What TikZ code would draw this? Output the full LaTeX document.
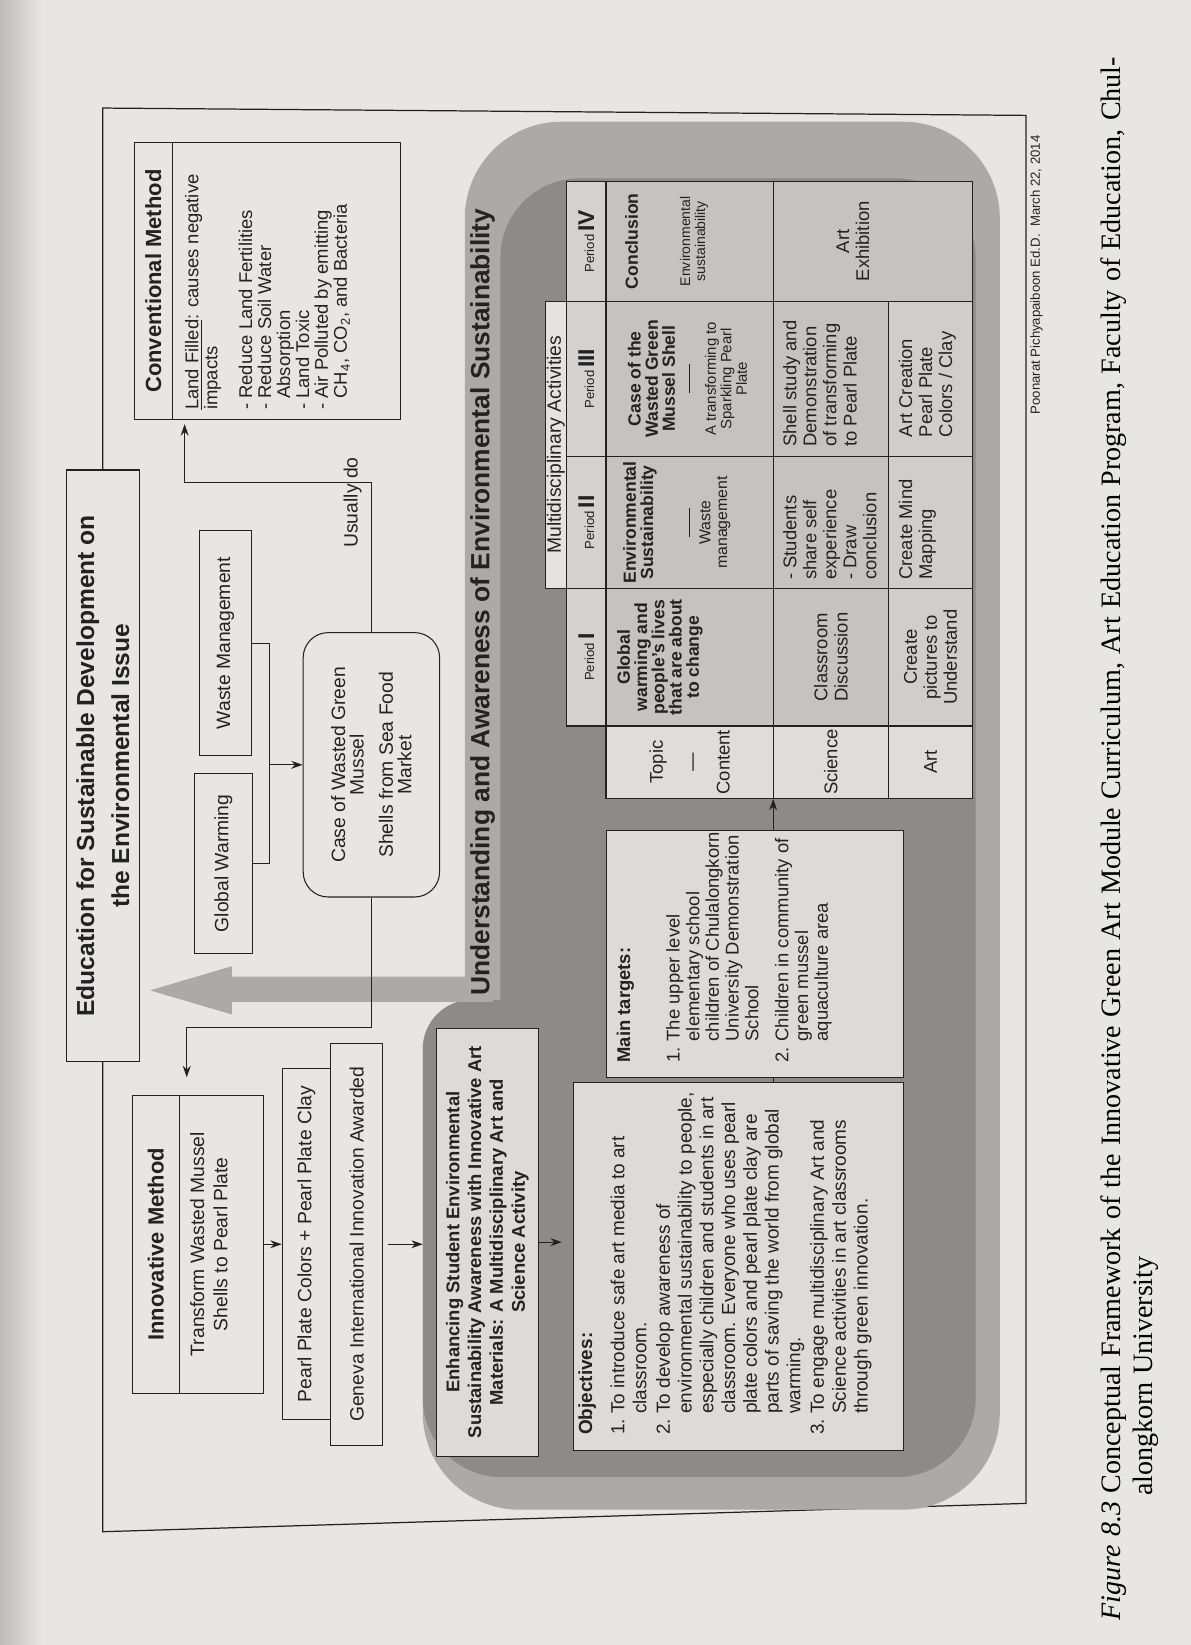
\documentclass[tikz,border=0pt]{standalone}
\usepackage{fontspec}
\setmainfont{Liberation Sans}
\newfontfamily\capfont{Liberation Serif}
\usetikzlibrary{calc,arrows.meta}

\definecolor{pagebg}{HTML}{E7E6E3}
\definecolor{edgebg}{HTML}{BDBCBA}
\definecolor{blklight}{HTML}{ABAAA6}
\definecolor{blkdark}{HTML}{8C8B87}
\definecolor{boxfill}{HTML}{DCDBD8}
\definecolor{perfill}{HTML}{D3D2CE}
\definecolor{cellfill}{HTML}{C4C3BF}
\definecolor{artfill}{HTML}{CFCECA}
\definecolor{labfill}{HTML}{DEDDDA}
\definecolor{hdrfill}{HTML}{E4E3E0}
\definecolor{inkc}{HTML}{222222}

\newcommand{\fsz}[2]{\fontsize{#1}{#2}\selectfont}
\newcommand{\periodlbl}[1]{{\fsz{7.5}{8}Period}\,{\fsz{13}{14}\bfseries #1}}

\tikzset{
  bx/.style 2 args={rotate=90, draw=inkc, line width=.6pt, inner sep=0pt,
    minimum width=#1*0.021cm, minimum height=#2*0.021cm, align=center, text=inkc},
  tx/.style={rotate=90, inner sep=0pt, align=center, text=inkc},
  txl/.style={rotate=90, inner sep=0pt, align=left, text=inkc},
  conn/.style={draw=inkc, line width=.6pt},
}

\begin{document}
\begin{tikzpicture}[x=0.021cm, y=-0.021cm, >={Stealth[length=6.5pt,width=4.5pt]}]
\fill[pagebg] (0,0) rectangle (1135,1568);
\shade[left color=edgebg, right color=pagebg] (0,0) rectangle (40,1568);
\useasboundingbox (0,0) rectangle (1135,1568);

% outer frame
\draw[inkc, line width=.7pt] (98,103) -- (978,110) -- (978,1433) -- (98,1460) -- cycle;

% grey block
\fill[blklight] (443,700) [rounded corners=55] -- (443,116) -- (953,116) -- (953,1439)
  -- (403,1439) [rounded corners=28] -- (403,953) [sharp corners] -- (443,953) -- cycle;
\fill[blkdark] (477,700) [rounded corners=45] -- (477,170) -- (930,170) -- (930,1408)
  -- (403,1408) [rounded corners=28] -- (403,953) [sharp corners] -- (477,953) -- cycle;
\fill[blklight] (470,931) -- (221,931) -- (221,921) -- (143,944) -- (221,967) -- (221,955) -- (470,955) -- cycle;

% left part
\node (ttl) [bx={564}{70}, fill=pagebg, font=\fsz{14}{20}\bfseries] at (98,730)
  {Education for Sustainable Development on\\the Environmental Issue};

\node (conv) [bx={264}{254}, fill=pagebg] at (255,268) {};
\draw[conn] (164,136) -- (164,400);
\node (convhd) [tx, font=\fsz{12.5}{14}\bfseries] at (146,268) {Conventional Method};
\node (convtx) [txl, anchor=north west, font=\fsz{10.5}{10.8}] at (176,391)
  {\underline{Land Filled}: causes negative\\impacts\\[9pt]
   - Reduce Land Fertilities\\- Reduce Soil Water\\\phantom{- }Absorption\\
   - Land Toxic\\- Air Polluted by emitting\\\phantom{- }CH\textsubscript{4}, CO\textsubscript{2}, and Bacteria};

\node (wm) [bx={214}{50}, fill=pagebg, font=\fsz{11}{12}] at (215,613) {Waste Management};
\node (gw) [bx={172}{56}, fill=pagebg, font=\fsz{11}{12}] at (213,823) {Global Warming};
\node (case) [bx={252}{130}, rounded corners=0.5cm, fill=pagebg, font=\fsz{11}{10.6}] at (354,729)
  {Case of Wasted Green\\Mussel\\[6pt]Shells from Sea Food\\Market};
\node (usual) [tx, font=\fsz{11}{12}] at (336,479) {Usually do};

\node (innov) [bx={284}{125}, fill=pagebg] at (188.5,1186) {};
\draw[conn] (171,1044) -- (171,1328);
\node (innovhd) [tx, font=\fsz{12.5}{14}\bfseries] at (148.5,1186) {Innovative Method};
\node (innovtx) [tx, font=\fsz{11}{13.3}] at (199,1186) {Transform Wasted Mussel\\Shells to Pearl Plate};
\node (pearl) [bx={334.5}{46}, fill=pagebg, font=\fsz{11}{12}] at (292,1186) {Pearl Plate Colors + Pearl Plate Clay};
\node (gen) [bx={383.5}{50}, fill=pagebg, font=\fsz{11}{12}] at (340,1186) {Geneva International Innovation Awarded};

\coordinate (up) at (176,460);
\coordinate (dn) at (178,979);
\coordinate (brk) at (257,729);
\coordinate (blk) at (403,1186);
\coordinate (ax) at (737,0);

\draw[conn,->, shorten >=0.08cm] (case.east) |- (up) -- (up |- conv.west);
\draw[conn,->, shorten >=0.35cm] (case.west) |- (dn) -- (dn |- innov.east);
\draw[conn] (gw.south) -| (brk) |- (wm.south);
\draw[conn,->] (brk) -- (case.north);
\draw[conn,->] (innov.south) -- (pearl.north);
\draw[conn,->, shorten <=0.1cm] (gen.south) -- (blk);

% grey block contents
\node (bnr) [tx, font=\fsz{15}{16}\bfseries] at (460,574) {Understanding and Awareness of Environmental Sustainability};
\node (enh) [bx={408}{97}, fill=boxfill, font=\fsz{10.5}{12.4}\bfseries] at (464.5,1184)
  {Enhancing Student Environmental\\Sustainability Awareness with Innovative Art\\Materials: A Multidisciplinary Art and\\Science Activity};

\node (obj) [bx={351}{314}, fill=boxfill] at (704,1207.5) {};
\node (objtx) [txl, anchor=north west, font=\fsz{10.8}{12.4}] at (551,1368)
  {\textbf{Objectives:}\\[6pt]
   \makebox[12pt][l]{1.}To introduce safe art media to art\\
   \hspace*{12pt}classroom.\\[1pt]
   \makebox[12pt][l]{2.}To develop awareness of\\
   \hspace*{12pt}environmental sustainability to people,\\
   \hspace*{12pt}especially children and students in art\\
   \hspace*{12pt}classroom. Everyone who uses pearl\\
   \hspace*{12pt}plate colors and pearl plate clay are\\
   \hspace*{12pt}parts of saving the world from global\\
   \hspace*{12pt}warming.\\[1pt]
   \makebox[12pt][l]{3.}To engage multidisciplinary Art and\\
   \hspace*{12pt}Science activities in art classrooms\\
   \hspace*{12pt}through green innovation.};

\node (tgt) [bx={235}{283}, fill=boxfill] at (719.5,909.5) {};
\node (tgttx) [txl, anchor=north west, font=\fsz{10.5}{11.2}] at (587.5,1013)
  {\textbf{Main targets:}\\[17pt]
   \makebox[12pt][l]{1.}The upper level\\
   \hspace*{12pt}elementary school\\
   \hspace*{12pt}children of Chulalongkorn\\
   \hspace*{12pt}University Demonstration\\
   \hspace*{12pt}School\\[6pt]
   \makebox[12pt][l]{2.}Children in community of\\
   \hspace*{12pt}green mussel\\
   \hspace*{12pt}aquaculture area};

\draw[conn,->, shorten >=0.23cm] (enh.south) -- (enh.south -| obj.north);

% activity table
\node (hdr) [bx={274}{20.4}, fill=hdrfill, font=\fsz{11}{11}] at (529.8,424) {Multidisciplinary Activities};
\node (p4) [bx={114}{37.6}, fill=perfill] at (558.8,230) {\periodlbl{IV}};
\node (p3) [bx={148}{37.6}, fill=perfill] at (558.8,361) {\periodlbl{III}};
\node (p2) [bx={126}{37.6}, fill=perfill] at (558.8,498) {\periodlbl{II}};
\node (p1) [bx={131}{37.6}, fill=perfill] at (558.8,626.5) {\periodlbl{I}};

\node (t4) [bx={114}{159.4}, fill=cellfill] at (657.3,230) {};
\node (t3) [bx={148}{159.4}, fill=cellfill] at (657.3,361) {};
\node (t2) [bx={126}{159.4}, fill=cellfill] at (657.3,498) {};
\node (t1) [bx={131}{159.4}, fill=cellfill] at (657.3,626.5) {};
\node (tl) [bx={69}{159.4}, fill=labfill, font=\fsz{10.5}{11}] at (657.3,726.5) {Topic\\[9pt]---\\[7pt]Content};

\node (e4) [bx={114}{190}, fill=cellfill] at (832,230) {};
\node (s3) [bx={148}{110}, fill=cellfill] at (792,361) {};
\node (s2) [bx={126}{110}, fill=cellfill] at (792,498) {};
\node (s1) [bx={131}{110}, fill=cellfill, font=\fsz{10.5}{11.4}] at (792,626.5) {Classroom\\Discussion};
\node (sl) [bx={69}{110}, fill=labfill, font=\fsz{10.5}{11.4}] at (792,726.5) {Science};
\node (a3) [bx={148}{80}, fill=artfill] at (887,361) {};
\node (a2) [bx={126}{80}, fill=artfill] at (887,498) {};
\node (a1) [bx={131}{80}, fill=artfill, font=\fsz{10.5}{11.4}] at (887,626.5) {Create\\pictures to\\Understand};
\node (al) [bx={69}{80}, fill=labfill, font=\fsz{10.5}{11.4}] at (887,726.5) {Art};

\draw[conn] (ax |- obj.east) -- (ax |- tgt.west);
\draw[conn,->] (ax |- tgt.east) -- (ax |- tl.west);

\node (t4a) [tx, font=\fsz{10}{10}\bfseries] at (602,230) {Conclusion};
\node (t4b) [tx, font=\fsz{8}{8.6}] at (661.5,230) {Environmental\\sustainability};
\node (t3a) [tx, font=\fsz{10}{9.8}\bfseries] at (621,361) {Case of the\\Wasted Green\\Mussel Shell};
\draw[conn] (657.6,347) -- (657.6,375);
\node (t3b) [tx, font=\fsz{8.5}{8.8}] at (692,361) {A transforming to\\Sparkling Pearl\\Plate};
\node (t2a) [tx, font=\fsz{10}{9.8}\bfseries] at (610,498) {Environmental\\Sustainability};
\draw[conn] (657.6,484) -- (657.6,512);
\node (t2b) [tx, font=\fsz{9}{9.5}] at (681.5,498) {Waste\\management};
\node (t1a) [tx, font=\fsz{10}{9.8}\bfseries] at (629,626.5) {Global\\warming and\\people's lives\\that are about\\to change};

\node (s2t) [txl, anchor=west, font=\fsz{10.5}{11.4}] at (791,553) {- Students\\share self\\experience\\- Draw\\conclusion};
\node (s3t) [txl, anchor=west, font=\fsz{10.5}{11.4}] at (781.5,426) {Shell study and\\Demonstration\\of transforming\\to Pearl Plate};
\node (a2t) [txl, anchor=west, font=\fsz{10.5}{11.4}] at (874.5,553) {Create Mind\\Mapping};
\node (a3t) [txl, anchor=west, font=\fsz{10.5}{11.4}] at (884,417) {Art Creation\\Pearl Plate\\Colors / Clay};
\node (e4t) [tx, font=\fsz{10.5}{11.4}] at (813,230) {Art\\Exhibition};

% signature and caption
\node (sig) [tx, font=\fsz{7.5}{9}] at (988,262) {Poonarat Pichyapaiboon Ed.D.\ \ March 22, 2014};
\node (cap) [rotate=90, anchor=base west, inner sep=0pt] at (1068,1545)
  {\parbox[t]{31.29cm}{\capfont\fsz{16}{18.5}\sbox0{\textit{Figure 8.3}\ }%
   \makebox[\linewidth][s]{\textit{Figure 8.3} Conceptual Framework of the Innovative Green Art Module Curriculum, Art Education Program, Faculty of Education, Chul-}\\
   \hspace*{\wd0}alongkorn University}};
\end{tikzpicture}
\end{document}
